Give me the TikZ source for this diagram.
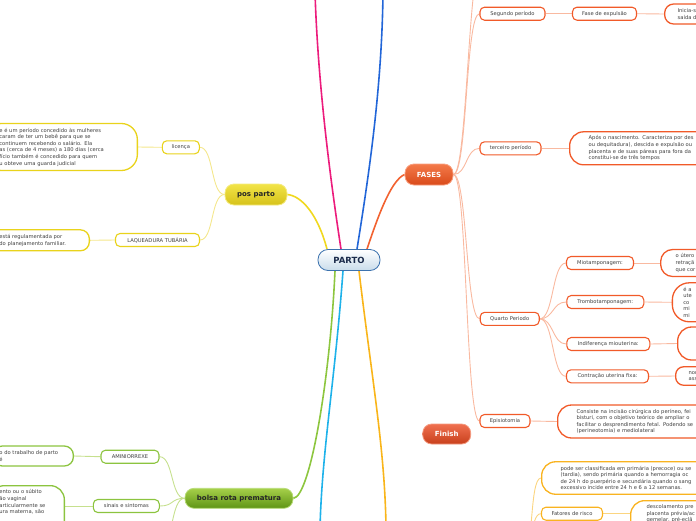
\documentclass[tikz,border=0pt]{standalone}
\usepackage{fontspec}
\setmainfont{DejaVu Sans}
\pgfdeclarelayer{bg}
\pgfsetlayers{bg,main}
\definecolor{tx}{HTML}{404040}
\definecolor{ora}{HTML}{F15A29}
\definecolor{sal}{HTML}{F9B9A0}
\definecolor{yel}{HTML}{E9D31B}
\definecolor{yelL}{HTML}{F4E78C}
\definecolor{grn}{HTML}{8CC43F}
\definecolor{grnL}{HTML}{C6E08E}
\definecolor{amb}{HTML}{F9B320}
\definecolor{ambL}{HTML}{FBD580}
\definecolor{pinkM}{HTML}{EC1C7C}
\definecolor{blueM}{HTML}{2266D8}
\definecolor{cyanM}{HTML}{1EB2EA}
\definecolor{grnM}{HTML}{8DC63F}
\definecolor{yelM}{HTML}{F0D81E}
\definecolor{ambM}{HTML}{F9B51A}
\definecolor{oraM}{HTML}{F26230}
\definecolor{fasT}{HTML}{F47A4A}
\definecolor{fasB}{HTML}{D94A1A}
\definecolor{fasD}{HTML}{F8A080}
\definecolor{finT}{HTML}{F07050}
\definecolor{finB}{HTML}{C8401C}
\definecolor{finD}{HTML}{F49A80}
\definecolor{posT}{HTML}{F2E448}
\definecolor{posB}{HTML}{D6C21A}
\definecolor{posD}{HTML}{F4EA80}
\definecolor{bolT}{HTML}{A6D04A}
\definecolor{bolB}{HTML}{5E9414}
\definecolor{bolD}{HTML}{B8DC78}
\definecolor{partoB}{HTML}{C9DCEA}
\definecolor{partoD}{HTML}{3C72AE}
\definecolor{partoT}{HTML}{1B2B4B}
\begin{document}
\begin{tikzpicture}[x=1pt,y=-1pt,
 txtf/.style={font=\fontsize{5.2}{6.6}\selectfont},
 sub/.style={draw=#1, line width=1.1pt, rounded corners=4.5pt, fill=white, txtf, text=tx, inner sep=0pt, minimum height=13pt},
 tbox/.style={draw=#1, line width=1.3pt, fill=white, txtf, text=tx, align=left, inner ysep=2pt},
 mainn/.style={rounded corners=9pt, font=\bfseries\fontsize{7}{8}\selectfont, minimum height=20pt, inner sep=0pt, line width=0.8pt},
 lnk/.style={draw=#1, line width=0.9pt},
 mainln/.style={draw=#1, line width=1.6pt},
]
\useasboundingbox (0,0) rectangle (696,520);
\clip (0,0) rectangle (696,520);

% central and main topics
\node[mainn, minimum width=62pt, minimum height=21pt, top color=white, bottom color=partoB, draw=partoD, text=partoT, font=\bfseries\fontsize{8.5}{9}\selectfont, rounded corners=10pt] (parto) at (349,260) {PARTO};
\node[mainn, minimum width=48pt, minimum height=21pt, top color=fasT, bottom color=fasB, draw=fasD, text=white] (fases) at (429,174.5) {FASES};
\node[mainn, minimum width=48pt, top color=finT, bottom color=finB, draw=finD, text=white] (finish) at (446.7,434) {Finish};
\node[mainn, minimum width=62pt, minimum height=21pt, top color=posT, bottom color=posB, draw=posD, text=black!85] (pos) at (256,194.5) {pos parto};
\node[mainn, minimum width=108pt, top color=bolT, bottom color=bolB, draw=bolD, text=black!85] (bolsa) at (239,498.3) {bolsa rota prematura};

% FASES branch
\node[sub=ora, minimum width=65pt] (seg) at (512.5,13.7) {Segundo período};
\node[sub=ora, minimum width=64pt] (fase) at (604.5,13.7) {Fase de expulsão};
\node[tbox=ora, anchor=west, rounded corners=9pt, minimum height=20pt, inner xsep=13pt, text width=120pt] (inicia) at (664,14) {Inicia-s\\saída d};
\node[sub=ora, minimum width=61pt] (terc) at (510.5,148.3) {terceiro período};
\node[tbox=ora, anchor=west, rounded corners=14pt, minimum height=33pt, inner xsep=19pt, text width=150pt] (apos) at (569,148.3) {Após o nascimento. Caracteriza por des\\ou dequitadura), descida e expulsão ou\\placenta e de suas páreas para fora da\\constitui-se de três tempos};
\node[sub=ora, minimum width=59pt] (quarto) at (509.7,318.8) {Quarto Periodo};
\node[sub=ora, minimum width=67pt] (mio) at (600,263) {Miotamponagem:};
\node[tbox=ora, anchor=west, rounded corners=12pt, minimum height=27pt, inner xsep=15pt, text width=60pt] (miobox) at (660,263) {o útero\\retraçã\\que cor};
\node[sub=ora, minimum width=77pt] (trombo) at (605.3,302) {Trombotamponagem:};
\node[tbox=ora, anchor=west, rounded corners=17pt, minimum height=39pt, inner xsep=11pt, text width=60pt] (trombox) at (671.7,302.3) {é a\\ute\\co\\mi\\mi};
\node[sub=ora, minimum width=83pt] (indif) at (608.3,344) {Indiferença miouterina:};
\node[tbox=ora, anchor=west, rounded corners=14pt, minimum height=33pt, minimum width=80pt] (indbox) at (677,343.5) {};
\node[sub=ora, minimum width=82pt] (contr) at (607.5,376.3) {Contração uterina fixa:};
\node[tbox=ora, anchor=west, rounded corners=8pt, minimum height=18.5pt, inner xsep=13pt, text width=60pt] (contrbox) at (675,376) {nor\\ass};
\node[sub=ora, minimum width=50pt] (epi) at (505,421) {Episiotomia};
\node[tbox=ora, anchor=west, rounded corners=14pt, minimum height=33pt, inner xsep=19pt, text width=160pt] (epibox) at (557,421.5) {Consiste na incisão cirúrgica do períneo, fei\\bisturi, com o objetivo teórico de ampliar o\\facilitar o desprendimento fetal. Podendo se\\(perineotomia) e mediolateral};

% pos parto branch
\node[sub=yel, minimum width=37pt] (lic) at (180.8,147.3) {licença};
\node[tbox=yel, anchor=east, rounded corners=16pt, minimum height=47pt, inner xsep=14pt, text width=124pt] (licbox) at (138,147) {e é um período concedido às mulheres\\caram de ter um bebê para que se\\continuem recebendo o salário. Ela\\as (cerca de 4 meses) a 180 dias (cerca\\fício também é concedido para quem\\u obteve uma guarda judicial};
\node[sub=yel, minimum width=84pt] (laq) at (157.5,240) {LAQUEADURA TUBÁRIA};
\node[tbox=yel, anchor=east, rounded corners=9pt, minimum height=21pt, inner xsep=12pt, text width=78pt] (laqbox) at (90,240.3) {está regulamentada por\\do planejamento familiar.};

% bolsa rota branch
\node[sub=grn, minimum width=58pt] (amin) at (130,456.7) {AMINIORREXE};
\node[tbox=grn, anchor=east, rounded corners=9pt, minimum height=20pt, inner xsep=6pt, text width=68pt] (aminbox) at (74,456) {o do trabalho de parto\\é};
\node[sub=grn, minimum width=66pt] (sinais) at (126.3,506) {sinais e sintomas};
\node[tbox=grn, anchor=north east, rounded corners=14pt, inner xsep=9pt, inner ysep=4pt, text width=56pt] (sinbox) at (65,485) {ento ou o súbito\\ão vaginal\\articularmente se\\ura materna, são\\[18pt]\strut};

% amber branch (bottom right)
\node[tbox=amb, anchor=west, rounded corners=14pt, minimum height=32.5pt, inner xsep=19pt, text width=160pt] (amb1) at (541,478) {pode ser classificada em primária (precoce) ou se\\(tardia), sendo primária quando a hemorragia oc\\de 24 h do puerpério e secundária quando o sang\\excessivo incide entre 24 h e 6 a 12 semanas.};
\node[sub=amb, minimum width=61pt] (fat) at (572,513.7) {Fatores de risco};
\node[tbox=amb, anchor=north west, rounded corners=14pt, inner xsep=16pt, inner ysep=4pt, text width=80pt] (amb2) at (630,500) {descolamento pre\\placenta prévia/ac\\gemelar, pré-eclâ\\[18pt]\strut};

% free ends
\coordinate (pinkend) at (315,-8);
\coordinate (blueend) at (383,-8);
\coordinate (cyanend) at (320,528);
\coordinate (amberend) at (386,528);
\coordinate (primeiro) at (482,-40);
\coordinate (gx) at (160,545);
\coordinate (ambpar) at (522,560);

\begin{pgfonlayer}{bg}
% main branches
\draw[mainln=pinkM] ([xshift=-8pt]parto.north) .. controls (332,190) and (318,90) .. (pinkend);
\draw[mainln=blueM] ([xshift=8pt]parto.north) .. controls (368,180) and (382,90) .. (blueend);
\draw[mainln=oraM] ([xshift=18pt]parto.north) .. controls (380,210) and (392,180) .. (fases.west);
\draw[mainln=yelM] ([xshift=-22pt]parto.north) .. controls (318,215) and (302,196) .. (pos.east);
\draw[mainln=grnM] ([xshift=-14pt]parto.south) .. controls (330,380) and (310,497) .. (bolsa.east);
\draw[mainln=cyanM] ([xshift=-6pt]parto.south) .. controls (335,380) and (322,450) .. (cyanend);
\draw[mainln=ambM] ([xshift=10pt]parto.south) .. controls (372,380) and (385,450) .. (amberend);
% FASES
\draw[lnk=sal] (fases.east) .. controls +(14,0) and +(-14,0) .. (primeiro);
\draw[lnk=sal] (fases.east) .. controls +(14,0) and +(-14,0) .. (seg.west);
\draw[lnk=sal] (fases.east) .. controls +(14,0) and +(-14,0) .. (terc.west);
\draw[lnk=sal] (fases.east) .. controls +(14,0) and +(-14,0) .. (quarto.west);
\draw[lnk=sal] (fases.east) .. controls +(14,0) and +(-14,0) .. (epi.west);
\draw[lnk=sal] (seg.east) -- (fase.west);
\draw[lnk=sal] (fase.east) -- (inicia.west);
\draw[lnk=sal] (terc.east) -- (apos.west);
\draw[lnk=sal] (quarto.east) .. controls +(14,0) and +(-14,0) .. (mio.west);
\draw[lnk=sal] (quarto.east) .. controls +(14,0) and +(-14,0) .. (trombo.west);
\draw[lnk=sal] (quarto.east) .. controls +(14,0) and +(-14,0) .. (indif.west);
\draw[lnk=sal] (quarto.east) .. controls +(14,0) and +(-14,0) .. (contr.west);
\draw[lnk=sal] (mio.east) -- (miobox.west);
\draw[lnk=sal] (trombo.east) -- (trombox.west);
\draw[lnk=sal] (indif.east) -- (indbox.west);
\draw[lnk=sal] (contr.east) -- (contrbox.west);
\draw[lnk=sal] (epi.east) -- (epibox.west);
% pos parto
\draw[lnk=yelL] (pos.west) .. controls +(-14,0) and +(14,0) .. (lic.east);
\draw[lnk=yelL] (pos.west) .. controls +(-14,0) and +(14,0) .. (laq.east);
\draw[lnk=yelL] (lic.west) -- (licbox.east);
\draw[lnk=yelL] (laq.west) -- (laqbox.east);
% bolsa
\draw[lnk=grnL] (bolsa.west) .. controls +(-14,0) and +(14,0) .. (amin.east);
\draw[lnk=grnL] (bolsa.west) .. controls +(-14,0) and +(14,0) .. (sinais.east);
\draw[lnk=grnL] (bolsa.west) .. controls +(-14,0) and +(14,0) .. (gx);
\draw[lnk=grnL] (amin.west) -- (aminbox.east);
\draw[lnk=grnL] (sinais.west) -- (sinbox.east |- sinais.west);
% amber
\draw[lnk=ambL] (ambpar) .. controls +(12,0) and +(-12,0) .. (amb1.west);
\draw[lnk=ambL] (ambpar) .. controls +(12,0) and +(-12,0) .. (fat.west);
\draw[lnk=ambL] (fat.east) -- (amb2.west |- fat.east);
\end{pgfonlayer}
\end{tikzpicture}
\end{document}
